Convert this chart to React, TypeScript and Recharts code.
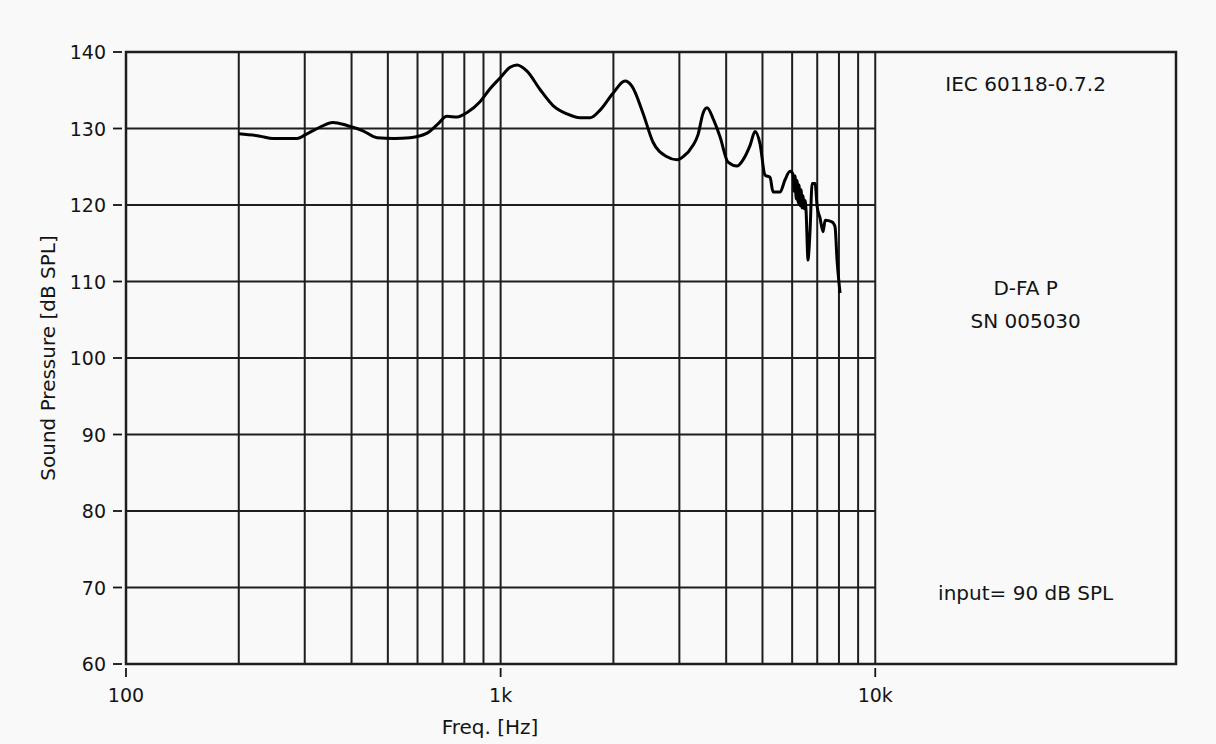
import React from 'react';
import {
  LineChart,
  Line,
  XAxis,
  YAxis,
  ReferenceLine,
  ReferenceArea,
  ReferenceDot,
} from 'recharts';

// frequency response
const FREQS = [
  200, 228, 247, 286, 304, 324, 357, 389, 429, 468, 520, 573, 636, 677, 719, 765, 814, 881, 937, 996,
  1060, 1106, 1176, 1274, 1380, 1504, 1629, 1733, 1843, 1995, 2148, 2243, 2399, 2552, 2781, 2957, 3069,
  3263, 3365, 3470, 3556, 3690, 3853, 4046, 4276, 4436, 4633, 4777, 4925, 5079, 5238, 5336, 5571, 5743,
  5925, 6035, 6075, 6110, 6150, 6185, 6225, 6260, 6300, 6340, 6380, 6420, 6460, 6495, 6535, 6617, 6640,
  6699, 6784, 6910, 6997, 7122, 7254, 7350, 7663, 7808, 7907, 8054,
];
const SPL = [
  129.3, 129.0, 128.7, 128.7, 129.3, 130.0, 130.8, 130.4, 129.7, 128.8, 128.7, 128.8, 129.4, 130.5, 131.6,
  131.5, 132.1, 133.5, 135.2, 136.6, 138.0, 138.3, 137.5, 135.1, 133.0, 131.9, 131.4, 131.4, 132.4, 134.6,
  136.2, 135.5, 132.0, 128.2, 126.3, 125.9, 126.3, 127.8, 129.2, 132.0, 132.7, 131.3, 128.9, 125.6, 125.1,
  125.9, 127.8, 129.6, 128.0, 123.9, 123.6, 121.7, 121.7, 123.3, 124.4, 124.0, 121.8, 123.8, 120.8, 123.2,
  120.3, 122.6, 119.9, 122.0, 119.6, 121.2, 119.5, 120.6, 119.3, 112.8, 113.5, 116.7, 122.8, 122.8, 119.8,
  118.3, 116.5, 118.0, 117.8, 117.2, 112.8, 108.5,
];

const X_DOMAIN = [100, 63500];
const X_TICKS = [100, 1000, 10000];
const X_TICK_LABELS = ['100', '1k', '10k'];
const Y_TICKS = [60, 70, 80, 90, 100, 110, 120, 130, 140];
const GRID_FREQS = [
  200, 300, 400, 500, 600, 700, 800, 900, 1000, 2000, 3000, 4000, 5000, 6000, 7000, 8000, 9000, 10000,
];
const GRID_LEVELS = [70, 80, 90, 100, 110, 120, 130];

const NOTE_TEXT = ['IEC 60118-0.7.2', 'D-FA P', 'SN 005030', 'input= 90 dB SPL'];
const NOTE_LEVEL = [135.8, 109.1, 104.8, 69.3];
const NOTE_FREQ = 25200;

const data = FREQS.map((f, i) => ({ freq: f, spl: SPL[i] }));

const INK = '#141414';
const GRID = '#1e1e1e';
const FONT = '"DejaVu Sans", Verdana, sans-serif';

const YTick = (props: any) => {
  const { x, y, payload } = props;
  return (
    <g>
      <line x1={x + 7} x2={x + 16} y1={y} y2={y} stroke={INK} strokeWidth={1.8} />
      <text x={x} y={y} dy={7} textAnchor="end" fill={INK} fontSize={19} fontFamily={FONT}>
        {payload.value}
      </text>
    </g>
  );
};

const XTick = (props: any) => {
  const { x, y, payload } = props;
  const idx = X_TICKS.indexOf(payload.value);
  return (
    <g>
      <line x1={x} x2={x} y1={y - 16} y2={y - 7} stroke={INK} strokeWidth={1.8} />
      <text x={x} y={y + 18} textAnchor="middle" fill={INK} fontSize={19} fontFamily={FONT}>
        {idx >= 0 ? X_TICK_LABELS[idx] : payload.value}
      </text>
    </g>
  );
};

const YTitle = (props: any) => {
  const vb = props.viewBox || { x: 0, y: 52, width: 126, height: 612 };
  const cx = vb.x + 48;
  const cy = vb.y + vb.height / 2;
  return (
    <text
      x={cx}
      y={cy}
      dy={7}
      transform={`rotate(-90, ${cx}, ${cy})`}
      textAnchor="middle"
      fill={INK}
      fontSize={20}
      fontFamily={FONT}
    >
      Sound Pressure [dB SPL]
    </text>
  );
};

const XTitle = (props: any) => {
  const vb = props.viewBox || { x: 126, y: 664, width: 1050, height: 80 };
  return (
    <text x={vb.x + 364} y={vb.y + 70} textAnchor="middle" fill={INK} fontSize={20} fontFamily={FONT}>
      Freq. [Hz]
    </text>
  );
};

export default function App() {
  return (
    <div style={{ width: 1216, height: 744, background: '#f9f9f9' }}>
      <style>{`body{margin:0;background:#f9f9f9}`}</style>
      <LineChart width={1216} height={744} data={data} margin={{ top: 52, right: 40, bottom: 0, left: 0 }}>
        <XAxis
          dataKey="freq"
          type="number"
          scale="log"
          domain={X_DOMAIN}
          ticks={X_TICKS}
          allowDataOverflow
          height={80}
          tickLine={false}
          axisLine={false}
          tickSize={20}
          tickMargin={0}
          tick={<XTick />}
          label={<XTitle />}
        />
        <YAxis
          type="number"
          domain={[60, 140]}
          ticks={Y_TICKS}
          allowDataOverflow
          width={126}
          tickLine={false}
          axisLine={false}
          tickSize={20}
          tickMargin={0}
          tick={<YTick />}
          label={<YTitle />}
        />
        {GRID_LEVELS.map((v) => (
          <ReferenceLine
            key={`h${v}`}
            segment={[
              { x: 100, y: v },
              { x: 10000, y: v },
            ]}
            stroke={GRID}
            strokeWidth={2}
          />
        ))}
        {GRID_FREQS.map((f) => (
          <ReferenceLine key={`v${f}`} x={f} stroke={GRID} strokeWidth={2} />
        ))}
        <ReferenceArea
          x1={X_DOMAIN[0]}
          x2={X_DOMAIN[1]}
          y1={60}
          y2={140}
          fill="none"
          fillOpacity={0}
          stroke={GRID}
          strokeWidth={2.5}
          strokeOpacity={1}
        />
        {NOTE_TEXT.map((t, i) => (
          <ReferenceDot
            key={t}
            x={NOTE_FREQ}
            y={NOTE_LEVEL[i]}
            r={0}
            fill="none"
            stroke="none"
            label={{ value: t, position: 'center', fill: INK, fontSize: 20, fontFamily: FONT }}
          />
        ))}
        <Line
          dataKey="spl"
          type="monotoneX"
          stroke="#000"
          strokeWidth={3}
          dot={false}
          isAnimationActive={false}
        />
      </LineChart>
    </div>
  );
}
